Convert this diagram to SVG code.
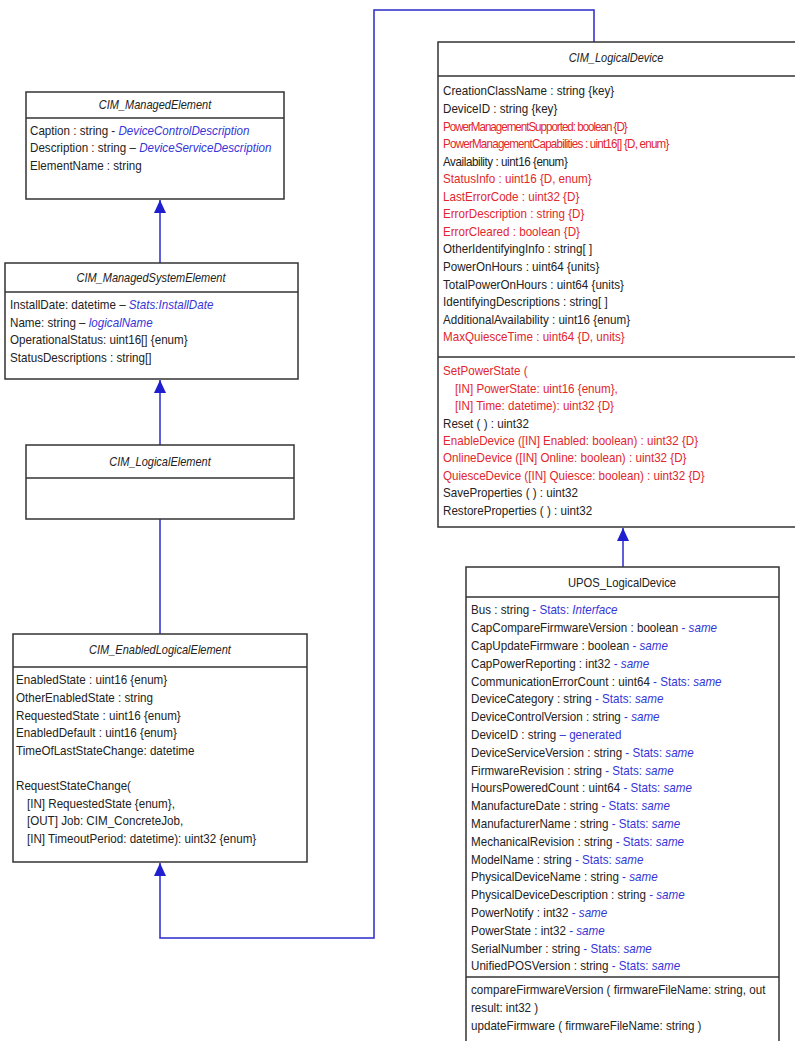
<svg xmlns="http://www.w3.org/2000/svg" width="795" height="1041" viewBox="0 0 795 1041">
<style>
text{font-family:"Liberation Sans",Arial,sans-serif;font-size:12.5px;fill:#222}
.t{text-anchor:middle}
.i{font-style:italic}
.r{fill:#e2262c}
.b{fill:#3535d8}
.bi{fill:#3535d8;font-style:italic}
.box{fill:#fff;stroke:#333;stroke-width:1.5}
.dv{stroke:#333;stroke-width:1.5}
.c{fill:none;stroke:#2a2acc;stroke-width:1.5}
</style>
<defs>
<marker id="a" markerUnits="userSpaceOnUse" markerWidth="14" markerHeight="14" refX="13" refY="6" orient="auto"><path d="M0,0 L13,6 L0,12 z" fill="#1f1fd0"/></marker>
</defs>
<rect width="795" height="1041" fill="#fff"/>

<g id="connectors">
<path class="c" d="M160,263 V200" marker-end="url(#a)"/>
<path class="c" d="M160,445 V380" marker-end="url(#a)"/>
<path class="c" d="M160,634 V519"/>
<path class="c" d="M594,42 V10 H374 V938 H160 V863" marker-end="url(#a)"/>
<path class="c" d="M623,567 V528" marker-end="url(#a)"/>
</g>

<g id="cim-managed-element">
<rect class="box" x="26" y="92" width="258" height="107"/>
<line class="dv" x1="26" y1="118" x2="284" y2="118"/>
<text class="t i" transform="translate(155 109) scale(0.88 1)">CIM_ManagedElement</text>
<g transform="translate(30 0) scale(0.93 1)">
<text y="135">Caption : string - <tspan class="bi">DeviceControlDescription</tspan></text>
<text y="152.5">Description : string – <tspan class="bi">DeviceServiceDescription</tspan></text>
<text y="170">ElementName : string</text>
</g>
</g>

<g id="cim-managed-system-element">
<rect class="box" x="5" y="263" width="293" height="116"/>
<line class="dv" x1="5" y1="292" x2="298" y2="292"/>
<text class="t i" transform="translate(151 281.5) scale(0.88 1)">CIM_ManagedSystemElement</text>
<g transform="translate(10 0) scale(0.93 1)">
<text y="309.5">InstallDate: datetime – <tspan class="bi">Stats:InstallDate</tspan></text>
<text y="327">Name: string – <tspan class="bi">logicalName</tspan></text>
<text y="344.5">OperationalStatus: uint16[] {enum}</text>
<text y="362">StatusDescriptions : string[]</text>
</g>
</g>

<g id="cim-logical-element">
<rect class="box" x="26" y="445" width="268" height="74"/>
<line class="dv" x1="26" y1="478" x2="294" y2="478"/>
<text class="t i" transform="translate(160 465.5) scale(0.88 1)">CIM_LogicalElement</text>
</g>

<g id="cim-enabled-logical-element">
<rect class="box" x="13" y="634" width="294" height="228"/>
<line class="dv" x1="13" y1="667" x2="307" y2="667"/>
<text class="t i" transform="translate(160 653.5) scale(0.88 1)">CIM_EnabledLogicalElement</text>
<g transform="translate(16 0) scale(0.93 1)">
<text y="684.5">EnabledState : uint16 {enum}</text>
<text y="702.1">OtherEnabledState : string</text>
<text y="719.7">RequestedState : uint16 {enum}</text>
<text y="737.3">EnabledDefault : uint16 {enum}</text>
<text y="754.9">TimeOfLastStateChange: datetime</text>
<text y="790.1">RequestStateChange(</text>
<text x="11.8" y="807.7">[IN] RequestedState {enum},</text>
<text x="11.8" y="825.3">[OUT] Job: CIM_ConcreteJob,</text>
<text x="11.8" y="842.9">[IN] TimeoutPeriod: datetime): uint32 {enum}</text>
</g>
</g>

<g id="cim-logical-device">
<rect class="box" x="438" y="42" width="362" height="485"/>
<line class="dv" x1="438" y1="76" x2="800" y2="76"/>
<line class="dv" x1="438" y1="357" x2="800" y2="357"/>
<text class="t i" transform="translate(616 61.5) scale(0.88 1)">CIM_LogicalDevice</text>
<g transform="translate(443 0) scale(0.93 1)">
<text y="95.5">CreationClassName : string {key}</text>
<text y="113">DeviceID : string {key}</text>
<text class="r" y="130.6" letter-spacing="-1.1">PowerManagementSupported: boolean {D}</text>
<text class="r" y="148.2" letter-spacing="-0.85">PowerManagementCapabilities : uint16[] {D, enum}</text>
<text y="165.7" letter-spacing="-0.45">Availability : uint16 {enum}</text>
<text class="r" y="183.3">StatusInfo : uint16 {D, enum}</text>
<text class="r" y="200.8">LastErrorCode : uint32 {D}</text>
<text class="r" y="218.4">ErrorDescription : string {D}</text>
<text class="r" y="235.9">ErrorCleared : boolean {D}</text>
<text y="253.5">OtherIdentifyingInfo : string[ ]</text>
<text y="271">PowerOnHours : uint64 {units}</text>
<text y="288.6">TotalPowerOnHours : uint64 {units}</text>
<text y="306.1">IdentifyingDescriptions : string[ ]</text>
<text y="323.7">AdditionalAvailability : uint16 {enum}</text>
<text class="r" y="341.2">MaxQuiesceTime : uint64 {D, units}</text>
<text class="r" y="375.5">SetPowerState (</text>
<text class="r" x="13" y="392.9">[IN] PowerState: uint16 {enum},</text>
<text class="r" x="13" y="410.3">[IN] Time: datetime): uint32 {D}</text>
<text y="427.7">Reset ( ) : uint32</text>
<text class="r" y="445.1">EnableDevice ([IN] Enabled: boolean) : uint32 {D}</text>
<text class="r" y="462.5">OnlineDevice ([IN] Online: boolean) : uint32 {D}</text>
<text class="r" y="479.9">QuiesceDevice ([IN] Quiesce: boolean) : uint32 {D}</text>
<text y="497.3">SaveProperties ( ) : uint32</text>
<text y="514.7">RestoreProperties ( ) : uint32</text>
</g>
</g>

<g id="upos-logical-device">
<rect class="box" x="466" y="567" width="313" height="480"/>
<line class="dv" x1="466" y1="597" x2="779" y2="597"/>
<line class="dv" x1="466" y1="977" x2="779" y2="977"/>
<text class="t" transform="translate(622 586.5) scale(0.9 1)">UPOS_LogicalDevice</text>
<g transform="translate(471 0) scale(0.93 1)">
<text y="614.5">Bus : string <tspan class="b">- Stats: </tspan><tspan class="bi">Interface</tspan></text>
<text y="632.3">CapCompareFirmwareVersion : boolean <tspan class="b">- </tspan><tspan class="bi">same</tspan></text>
<text y="650.1">CapUpdateFirmware : boolean <tspan class="b">- </tspan><tspan class="bi">same</tspan></text>
<text y="667.9">CapPowerReporting : int32 <tspan class="b">- </tspan><tspan class="bi">same</tspan></text>
<text y="685.7">CommunicationErrorCount : uint64 <tspan class="b">- Stats: </tspan><tspan class="bi">same</tspan></text>
<text y="703.5">DeviceCategory : string <tspan class="b">- Stats: </tspan><tspan class="bi">same</tspan></text>
<text y="721.3">DeviceControlVersion : string <tspan class="b">- </tspan><tspan class="bi">same</tspan></text>
<text y="739.1">DeviceID : string <tspan class="b">– generated</tspan></text>
<text y="756.9">DeviceServiceVersion : string <tspan class="b">- Stats: </tspan><tspan class="bi">same</tspan></text>
<text y="774.7">FirmwareRevision : string <tspan class="b">- Stats: </tspan><tspan class="bi">same</tspan></text>
<text y="792.5">HoursPoweredCount : uint64 <tspan class="b">- Stats: </tspan><tspan class="bi">same</tspan></text>
<text y="810.3">ManufactureDate : string <tspan class="b">- Stats: </tspan><tspan class="bi">same</tspan></text>
<text y="828.1">ManufacturerName : string <tspan class="b">- Stats: </tspan><tspan class="bi">same</tspan></text>
<text y="845.9">MechanicalRevision : string <tspan class="b">- Stats: </tspan><tspan class="bi">same</tspan></text>
<text y="863.7">ModelName : string <tspan class="b">- Stats: </tspan><tspan class="bi">same</tspan></text>
<text y="881.5">PhysicalDeviceName : string <tspan class="b">- </tspan><tspan class="bi">same</tspan></text>
<text y="899.3">PhysicalDeviceDescription : string <tspan class="b">- </tspan><tspan class="bi">same</tspan></text>
<text y="917.1">PowerNotify : int32 <tspan class="b">- </tspan><tspan class="bi">same</tspan></text>
<text y="934.9">PowerState : int32 <tspan class="b">- </tspan><tspan class="bi">same</tspan></text>
<text y="952.7">SerialNumber : string <tspan class="b">- Stats: </tspan><tspan class="bi">same</tspan></text>
<text y="970.5">UnifiedPOSVersion : string <tspan class="b">- Stats: </tspan><tspan class="bi">same</tspan></text>
<text y="994.5">compareFirmwareVersion ( firmwareFileName: string, out</text>
<text y="1012.3">result: int32 )</text>
<text y="1030.1">updateFirmware ( firmwareFileName: string )</text>
</g>
</g>
</svg>
